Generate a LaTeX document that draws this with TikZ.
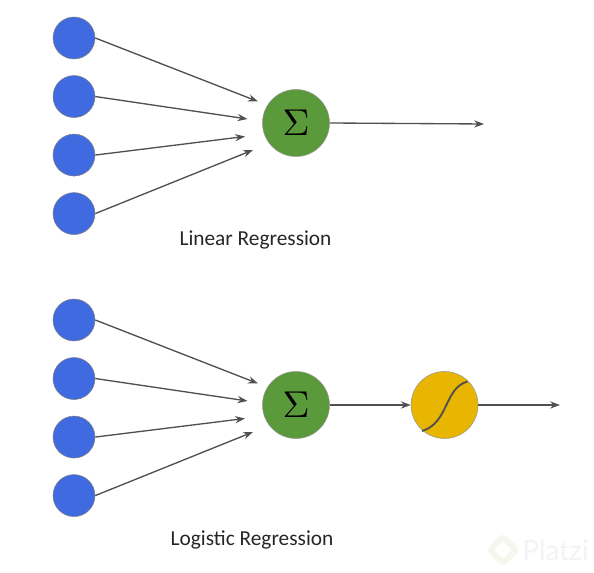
\documentclass[tikz,border=0pt]{standalone}
\usepackage{fontspec}
\setmainfont{Carlito}
\newfontfamily\markfont{Lato}
\usepackage{xcolor}
\definecolor{cInput}{HTML}{3F6AE0}
\definecolor{cSum}{HTML}{5B9A3A}
\definecolor{cSig}{HTML}{E8B600}
\definecolor{cLine}{HTML}{505050}
\definecolor{cMarkIcon}{HTML}{F3F7EC}
\definecolor{cMarkText}{HTML}{F3F3F3}
\usetikzlibrary{positioning,arrows.meta}
\newcommand{\sumsign}{\scalebox{2.8}{$\Sigma$}}
\tikzset{
  node-input/.style={draw=cLine!70,thin,fill=cInput,circle,minimum size=31.5pt,inner sep=0pt},
  node-sum/.style={draw=cLine!60,thin,fill=cSum,circle,minimum size=50.25pt,inner sep=0pt},
  node-sig/.style={draw=cLine!60,thin,fill=cSig,circle,minimum size=50.25pt,inner sep=0pt},
  node-caption/.style={font=\fontsize{16}{18}\selectfont,text=black!85},
  arrow/.style={-{Stealth[length=2.6mm,width=1.9mm]},line width=1pt,draw=cLine},
}
\begin{document}
\begin{tikzpicture}[x=.75pt,y=-.75pt,node distance=12pt and 60.75pt]
  \useasboundingbox (0,0) rectangle (594,573);
  % Linear Regression
  \node[node-input] (la) at (74,38) {};
  \node[node-input,below=of la] (lb) {};
  \node[node-input,below=of lb] (lc) {};
  \node[node-input,below=of lc] (ld) {};
  \node[node-sum] (lsum) at (296,123) {\sumsign};
  \coordinate (lenda) at (258,101.5);
  \coordinate (lendb) at (247.5,119);
  \coordinate (lendc) at (245,136.5);
  \coordinate (lendd) at (253,150);
  \coordinate (lout) at (484,124);
  \node[node-caption] (lcap) at (255.5,240) {Linear Regression};
  \draw[arrow] (la.east) -- (lenda);
  \draw[arrow] (lb.east) -- (lendb);
  \draw[arrow] (lc.east) -- (lendc);
  \draw[arrow] (ld.east) -- (lendd);
  \draw[arrow] (lsum.east) -- (lout);
  % Logistic Regression
  \node[node-input] (ga) at (74,320) {};
  \node[node-input,below=of ga] (gb) {};
  \node[node-input,below=of gb] (gc) {};
  \node[node-input,below=of gc] (gd) {};
  \node[node-sum] (gsum) at (296,405) {\sumsign};
  \node[node-sig,right=of gsum] (gsig) {};
  \coordinate (genda) at (258,383.5);
  \coordinate (gendb) at (247.5,401);
  \coordinate (gendc) at (245,418.5);
  \coordinate (gendd) at (253,432);
  \coordinate (gout) at (560,405);
  \coordinate (gcurvea) at (422,431);
  \coordinate (gcurveb) at (467.5,381.5);
  \node[node-caption] (gcap) at (252,540) {Logistic Regression};
  \draw[arrow] (ga.east) -- (genda);
  \draw[arrow] (gb.east) -- (gendb);
  \draw[arrow] (gc.east) -- (gendc);
  \draw[arrow] (gd.east) -- (gendd);
  \draw[arrow] (gsum) -- (gsig);
  \draw[arrow] (gsig) -- (gout);
  \draw[line width=1.4pt,draw=cLine] (gcurvea) .. controls (449,423) and (444,388) .. (gcurveb);
  % watermark
  \node[draw=cMarkIcon,line width=4.5pt,rounded corners=2.5pt,rotate=45,minimum size=14pt,inner sep=0pt] (wicon) at (503,550) {};
  \node[text=cMarkText,font=\markfont\fontsize{21}{21}\selectfont,inner sep=0pt] (wtext) at (555.5,550) {Platzi};
\end{tikzpicture}
\end{document}
